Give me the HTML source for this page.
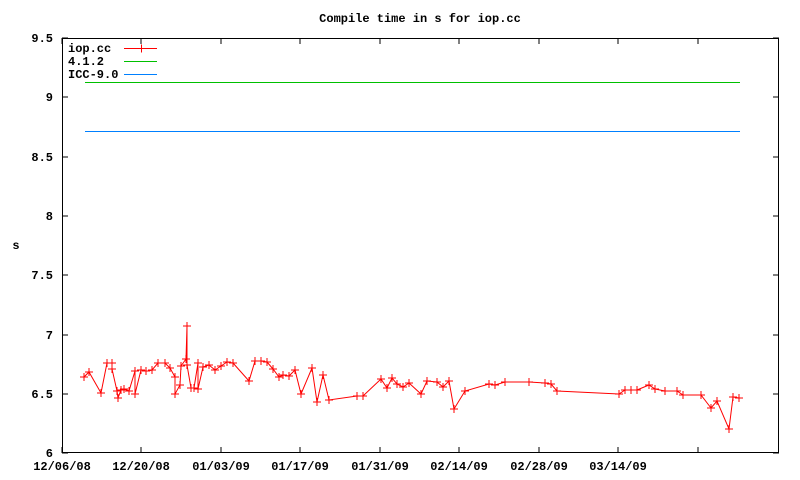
<!DOCTYPE html>
<html><head><style>body{margin:0;background:#fff}svg{display:block}text{font-family:"Liberation Mono",monospace;font-size:12px;font-weight:bold;fill:#000}</style></head>
<body>
<svg width="800" height="480" xmlns="http://www.w3.org/2000/svg">
<defs><path id="p" d="M-4,0H4M0,-4V4" stroke="#f00" stroke-width="1" fill="none" shape-rendering="crispEdges"/></defs>
<text x="420" y="22" text-anchor="middle">Compile time in s for iop.cc</text>
<rect x="62.5" y="38.5" width="716" height="414" fill="none" stroke="#000" shape-rendering="crispEdges"/>
<g stroke="#000" shape-rendering="crispEdges">
<path d="M62,453h6M779,453h-6M62,394h6M779,394h-6M62,335h6M779,335h-6M62,275h6M779,275h-6M62,216h6M779,216h-6M62,157h6M779,157h-6M62,97h6M779,97h-6M62,38h6M779,38h-6"/>
<path d="M62,453v-6M141,453v-6M221,453v-6M300,453v-6M380,453v-6M459,453v-6M539,453v-6M618,453v-6M698,453v-6M62,38v6M141,38v6M221,38v6M300,38v6M380,38v6M459,38v6M539,38v6M618,38v6M698,38v6"/>
</g>
<g text-anchor="end">
<text x="53" y="457">6</text><text x="53" y="398">6.5</text><text x="53" y="339">7</text><text x="53" y="279">7.5</text><text x="53" y="220">8</text><text x="53" y="161">8.5</text><text x="53" y="101">9</text><text x="53" y="42">9.5</text>
</g>
<g text-anchor="middle">
<text x="62" y="470">12/06/08</text><text x="141" y="470">12/20/08</text><text x="221" y="470">01/03/09</text><text x="300" y="470">01/17/09</text><text x="380" y="470">01/31/09</text><text x="459" y="470">02/14/09</text><text x="539" y="470">02/28/09</text><text x="618" y="470">03/14/09</text>
</g>
<text x="16" y="249" text-anchor="middle">s</text>
<text x="68" y="52">iop.cc</text><text x="68" y="65">4.1.2</text><text x="68" y="78">ICC-9.0</text>
<g shape-rendering="crispEdges">
<path d="M124,48.5h33" stroke="#f00"/><use href="#p" x="141.5" y="48.5"/>
<path d="M124,61.5h33" stroke="#00c000"/><path d="M124,74.5h33" stroke="#0080ff"/>
<path d="M85,82.5H740" stroke="#00c000"/><path d="M85,131.5H740" stroke="#0080ff"/>
</g>
<polyline fill="none" stroke="#f00" points="84,377 89,372 101,393 107,363 112,363 112,369 117,391 118,398 121,390 124,389 129,391 135,371 135,394 141,370 146,371 149,371 152,370 158,363 165,363 170,368 175,377 175,394 180,385 181,366 186,359 187,326 187,365 191,388 194,388 198,363 198,389 203,367 209,365 215,370 221,366 227,362 233,363 249,381 255,361 261,361 267,362 273,369 279,377 283,375 289,376 295,370 301,394 312,368 317,402 323,375 329,400 357,396 363,396 381,379 387,388 392,378 397,384 403,387 409,383 421,394 427,381 437,382 443,387 449,381 454,409 465,391 489,384 495,385 505,382 529,382 545,383 551,384 557,391 619,394 625,390 631,390 637,390 649,385 655,389 665,391 677,391 683,395 701,395 711,408 717,401 729,429 733,397 739,398"/>
<g>
<use href="#p" x="84" y="377"/><use href="#p" x="89" y="372"/><use href="#p" x="101" y="393"/><use href="#p" x="107" y="363"/><use href="#p" x="112" y="363"/><use href="#p" x="112" y="369"/><use href="#p" x="117" y="391"/><use href="#p" x="118" y="398"/><use href="#p" x="121" y="390"/><use href="#p" x="124" y="389"/><use href="#p" x="129" y="391"/><use href="#p" x="135" y="371"/><use href="#p" x="135" y="394"/><use href="#p" x="141" y="370"/><use href="#p" x="146" y="371"/><use href="#p" x="152" y="370"/><use href="#p" x="158" y="363"/><use href="#p" x="165" y="363"/><use href="#p" x="170" y="368"/><use href="#p" x="175" y="377"/><use href="#p" x="175" y="394"/><use href="#p" x="180" y="385"/><use href="#p" x="181" y="366"/><use href="#p" x="186" y="359"/><use href="#p" x="187" y="326"/><use href="#p" x="187" y="365"/><use href="#p" x="191" y="388"/><use href="#p" x="194" y="388"/><use href="#p" x="198" y="363"/><use href="#p" x="198" y="389"/><use href="#p" x="203" y="367"/><use href="#p" x="209" y="365"/><use href="#p" x="215" y="370"/><use href="#p" x="221" y="366"/><use href="#p" x="227" y="362"/><use href="#p" x="233" y="363"/><use href="#p" x="249" y="381"/><use href="#p" x="255" y="361"/><use href="#p" x="261" y="361"/><use href="#p" x="267" y="362"/><use href="#p" x="273" y="369"/><use href="#p" x="279" y="377"/><use href="#p" x="283" y="375"/><use href="#p" x="289" y="376"/><use href="#p" x="295" y="370"/><use href="#p" x="301" y="394"/><use href="#p" x="312" y="368"/><use href="#p" x="317" y="402"/><use href="#p" x="323" y="375"/><use href="#p" x="329" y="400"/><use href="#p" x="357" y="396"/><use href="#p" x="363" y="396"/><use href="#p" x="381" y="379"/><use href="#p" x="387" y="388"/><use href="#p" x="392" y="378"/><use href="#p" x="397" y="384"/><use href="#p" x="403" y="387"/><use href="#p" x="409" y="383"/><use href="#p" x="421" y="394"/><use href="#p" x="427" y="381"/><use href="#p" x="437" y="382"/><use href="#p" x="443" y="387"/><use href="#p" x="449" y="381"/><use href="#p" x="454" y="409"/><use href="#p" x="465" y="391"/><use href="#p" x="489" y="384"/><use href="#p" x="495" y="385"/><use href="#p" x="505" y="382"/><use href="#p" x="529" y="382"/><use href="#p" x="545" y="383"/><use href="#p" x="551" y="384"/><use href="#p" x="557" y="391"/><use href="#p" x="619" y="394"/><use href="#p" x="625" y="390"/><use href="#p" x="631" y="390"/><use href="#p" x="637" y="390"/><use href="#p" x="649" y="385"/><use href="#p" x="655" y="389"/><use href="#p" x="665" y="391"/><use href="#p" x="677" y="391"/><use href="#p" x="683" y="395"/><use href="#p" x="701" y="395"/><use href="#p" x="711" y="408"/><use href="#p" x="717" y="401"/><use href="#p" x="729" y="429"/><use href="#p" x="733" y="397"/><use href="#p" x="739" y="398"/>
</g>
</svg>
</body></html>
